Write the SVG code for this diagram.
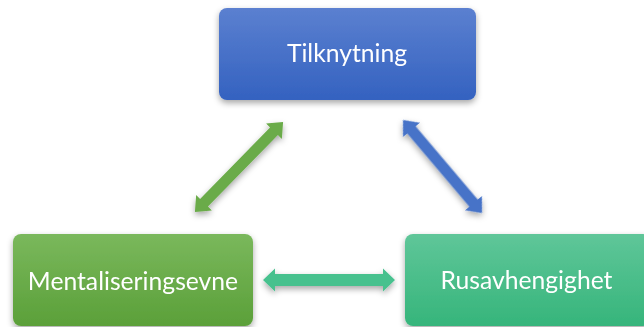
<svg xmlns="http://www.w3.org/2000/svg" width="644" height="327" viewBox="0 0 644 327">
<defs>
<linearGradient id="gBlue" x1="0" y1="0" x2="0" y2="1"><stop offset="0" stop-color="#5b80d0"/><stop offset="1" stop-color="#3462c0"/></linearGradient>
<linearGradient id="gGreen" x1="0" y1="0" x2="0" y2="1"><stop offset="0" stop-color="#7ab85c"/><stop offset="1" stop-color="#5ba039"/></linearGradient>
<linearGradient id="gTeal" x1="0" y1="0" x2="0" y2="1"><stop offset="0" stop-color="#5fc699"/><stop offset="1" stop-color="#36b57b"/></linearGradient>
<filter id="sh" x="-20%" y="-20%" width="140%" height="150%"><feDropShadow dx="0" dy="3" stdDeviation="3" flood-color="#000" flood-opacity="0.35"/></filter>
</defs>
<style>
.lbl{font-family:Lato,"Open Sans","Noto Sans",sans-serif;font-size:24.7px;fill:#fff;text-anchor:middle}
</style>
<g id="connectors" filter="url(#sh)">
<polygon transform="translate(239,167) rotate(-45.6)" fill="#6aab48" points="-63,0 -50,-11 -50,-5.5 50,-5.5 50,-11 63,0 50,11 50,5.5 -50,5.5 -50,11"/>
<polygon transform="translate(442.5,166.5) rotate(49.7)" fill="#4673c8" points="-61,0 -48,-11 -48,-5.5 48,-5.5 48,-11 61,0 48,11 48,5.5 -48,5.5 -48,11"/>
<polygon transform="translate(329,280)" fill="#46c18e" points="-66,0 -54,-11.5 -54,-6 54,-6 54,-11.5 66,0 54,11.5 54,6 -54,6 -54,11.5"/>
</g>
<g id="tilknytning">
<rect x="219" y="8" width="257" height="92" rx="8" fill="url(#gBlue)" filter="url(#sh)"/>
<text class="lbl" x="347" y="62">Tilknytning</text>
</g>
<g id="mentaliseringsevne">
<rect x="13" y="234" width="240" height="92" rx="8" fill="url(#gGreen)" filter="url(#sh)"/>
<text class="lbl" x="133" y="290">Mentaliseringsevne</text>
</g>
<g id="rusavhengighet">
<rect x="405" y="234" width="246" height="92" rx="8" fill="url(#gTeal)" filter="url(#sh)"/>
<text class="lbl" x="526.5" y="289">Rusavhengighet</text>
</g>
</svg>
